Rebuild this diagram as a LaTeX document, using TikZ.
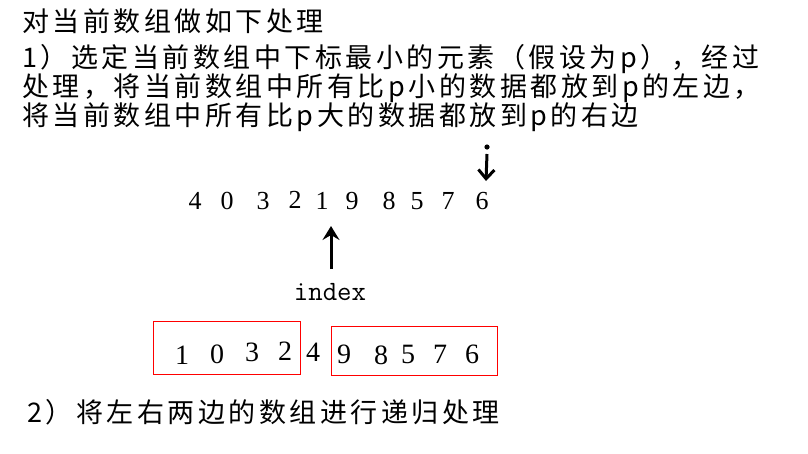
\documentclass[tikz,border=0pt]{standalone}
\usepackage{fontspec}
\usetikzlibrary{arrows.meta}
\newfontfamily\cjk[LetterSpace=13]{Noto Sans CJK SC}
\newfontfamily\digfont{Liberation Serif}
\tikzset{
  cjktext/.style={anchor=base west, inner sep=0pt, font=\cjk\fontsize{27}{30}\selectfont},
  digit/.style={anchor=base, inner sep=0pt, font=\digfont\fontsize{26}{30}\selectfont},
  digitb/.style={anchor=base, inner sep=0pt, font=\digfont\fontsize{28}{32}\selectfont},
  redbox/.style={draw=red, line width=1pt, inner sep=0pt},
  pointer/.style={line width=3pt},
}
\begin{document}
\begin{tikzpicture}[x=1pt,y=-1pt]
\useasboundingbox[fill=white] (0,0) rectangle (808,453);
% heading text
\node[cjktext] (l1) at (22,31) {对当前数组做如下处理};
\node[cjktext] (l2) at (22,67) {1）选定当前数组中下标最小的元素（假设为p），经过};
\node[cjktext] (l3) at (22,96) {处理，将当前数组中所有比p小的数据都放到p的左边，};
\node[cjktext] (l4) at (22,125) {将当前数组中所有比p大的数据都放到p的右边};
% top row of digits
\node[digit] (a4) at (195,209) {4};
\node[digit] (a0) at (227,209) {0};
\node[digit] (a3) at (263,209) {3};
\node[digit] (a2) at (295,208) {2};
\node[digit] (a1) at (322,209) {1};
\node[digit] (a9) at (352,209) {9};
\node[digit] (a8) at (389,209) {8};
\node[digit] (a5) at (417,209) {5};
\node[digit] (a7) at (448,209) {7};
\node[digit] (a6) at (482,209) {6};
% down pointer above 6
\fill (487,147) circle (2.6);
\coordinate (dnS) at (487,154);
\coordinate (dnE) at (486,181);
\draw[pointer, -{Straight Barb[length=9pt,width=16pt,line width=3pt]}] (dnS) -- (dnE);
% up pointer under 1
\node[anchor=base, inner sep=0pt, font=\ttfamily\fontsize{28}{32}\selectfont] (idx) at (330,300) {index};
\coordinate (upS) at (331,269);
\coordinate (upE) at (331,226);
\draw[pointer, -{Stealth[length=14pt,width=17pt,inset=5pt]}] (upS) -- (upE);
% partition boxes
\node[redbox, minimum width=147pt, minimum height=53pt] (lbox) at (227,348) {};
\node[redbox, minimum width=166pt, minimum height=49pt] (rbox) at (414.5,351) {};
\node[digitb] (b1) at (182,364) {1};
\node[digitb] (b0) at (217,363) {0};
\node[digitb] (b3) at (252,361) {3};
\node[digitb] (b2) at (285,360) {2};
\node[digitb] (b4) at (313,361) {4};
\node[digitb] (b9) at (344,363) {9};
\node[digitb] (b8) at (381,364) {8};
\node[digitb] (b5) at (408,363) {5};
\node[digitb] (b7) at (440,363) {7};
\node[digitb] (b6) at (472,363) {6};
% step 2
\node[cjktext] (s2) at (27,422) {2）将左右两边的数组进行递归处理};
\end{tikzpicture}
\end{document}
